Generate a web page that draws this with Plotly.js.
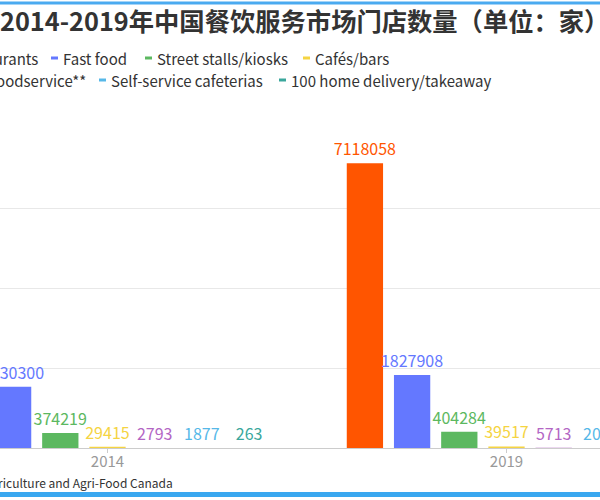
<!DOCTYPE html>
<html>
<head>
<meta charset="utf-8">
<script src="https://cdn.plot.ly/plotly-3.0.1.min.js"></script>
<style>
html, body { margin:0; padding:0; width:600px; height:500px; overflow:hidden; background:#fff; }
#wrap { position:absolute; left:0; top:0; width:600px; height:500px; overflow:hidden; }
#chart { position:absolute; left:-150px; top:0; width:900px; height:500px; }
</style>
</head>
<body>
<div id="wrap"><div id="chart"></div></div>
<script>
// ---- data ----
const categories = ['2014', '2019'];
const seriesNames = ['Full-service restaurants', 'Fast food', 'Street stalls/kiosks', 'Cafés/bars',
                     'Other foodservice**', 'Self-service cafeterias', '100 home delivery/takeaway'];
const fullServiceRestaurants = [5961000, 7118058];
const fastFood = [1530300, 1827908];
const streetStalls = [374219, 404284];
const cafesBars = [29415, 39517];
const otherFoodservice = [2793, 5713];
const selfServiceCafeterias = [1877, 2036];
const homeDelivery = [263, 420];
const seriesColors = ['#ff5500', '#6478ff', '#5cb860', '#f5d442', '#b366c4', '#56b8e8', '#3aa79c'];
const titleText = '2014-2019年中国餐饮服务市场门店数量（单位：家）';
const sourceText = '数据来源：Agriculture and Agri-Food Canada';

const seriesValues = [fullServiceRestaurants, fastFood, streetStalls, cafesBars,
                      otherFoodservice, selfServiceCafeterias, homeDelivery];

// ---- geometry (screen px -> paper) ----
const OFFSET = 150, ML = 58, MR = 44, MT = 128, MB = 52, W = 900, H = 500;
const PW = W - ML - MR, PH = H - MT - MB;
const px = sx => (sx + OFFSET - ML) / PW;
const py = sy => (H - MB - sy) / PH;

const FONT = '"Noto Sans CJK SC", "Noto Sans", sans-serif';

const traces = seriesNames.map((name, i) => ({
  type: 'bar',
  name: name,
  x: categories,
  y: seriesValues[i],
  text: seriesValues[i].map(String),
  textposition: 'outside',
  constraintext: 'none',
  cliponaxis: false,
  textfont: { family: FONT, size: 16, color: seriesColors[i] },
  marker: { color: seriesColors[i] },
  showlegend: false,
  hoverinfo: 'skip'
}));

// legend layout (screen px); first item of each row is cut by the left edge
const legendRow = [0, 0, 0, 0, 1, 1, 1];
const legendIconX = [-175, 51, 145, 303, -140, 99, 279];
const legendTextEnd = [40, null, null, null, 88, null, null];
const legendRowY = [58, 80];

const annotations = [];
const shapes = [];
seriesNames.forEach((name, i) => {
  const y = legendRowY[legendRow[i]];
  shapes.push({ type: 'rect', xref: 'paper', yref: 'paper',
    x0: px(legendIconX[i]), x1: px(legendIconX[i] + 7),
    y0: py(y - 1.5), y1: py(y + 1.5),
    fillcolor: seriesColors[i], line: { width: 0 } });
  const endX = legendTextEnd[i];
  annotations.push({ xref: 'paper', yref: 'paper',
    x: endX !== null ? px(endX) : px(legendIconX[i] + 10), y: py(y),
    xanchor: endX !== null ? 'right' : 'left', yanchor: 'middle', showarrow: false, text: name,
    font: { family: FONT, size: 15, color: '#333' } });
});
// source
annotations.push({ xref: 'paper', yref: 'paper', x: px(175), y: py(482),
  xanchor: 'right', yanchor: 'middle', showarrow: false, text: sourceText,
  font: { family: FONT, size: 12, color: '#333' } });
// frame bands
shapes.push({ type: 'rect', xref: 'paper', yref: 'paper', x0: px(-10), x1: px(610),
  y0: py(4.5), y1: py(1.5), fillcolor: '#4aaaf0', line: { width: 0 } });
shapes.push({ type: 'rect', xref: 'paper', yref: 'paper', x0: px(-10), x1: px(610),
  y0: py(497), y1: py(492), fillcolor: '#3aa8f0', line: { width: 0 } });

const layout = {
  width: W, height: H,
  margin: { l: ML, r: MR, t: MT, b: MB, autoexpand: false },
  paper_bgcolor: '#fff', plot_bgcolor: '#fff',
  title: { text: titleText, xref: 'container', yref: 'container',
    x: OFFSET / W, xanchor: 'left', y: 1 - 22 / H, yanchor: 'middle',
    font: { family: FONT, size: 25.3, weight: 'bold', color: '#333' } },
  barmode: 'group', bargap: 0.172, bargroupgap: 0.231,
  xaxis: { type: 'category', showgrid: false, showline: true, linecolor: '#cccccc', linewidth: 1,
    ticks: 'outside', ticklen: 4, tickcolor: '#cccccc', ticklabelstandoff: -4,
    tickfont: { family: FONT, size: 15, color: '#999' }, zeroline: false },
  yaxis: { range: [0, 8000000], dtick: 2000000, showgrid: true, gridcolor: '#e8e8e8',
    zeroline: false, showline: false, tickfont: { family: FONT, size: 13, color: '#999' } },
  annotations: annotations,
  shapes: shapes,
  showlegend: false
};

Plotly.newPlot('chart', traces, layout, { displayModeBar: false, staticPlot: true });
</script>
</body>
</html>
